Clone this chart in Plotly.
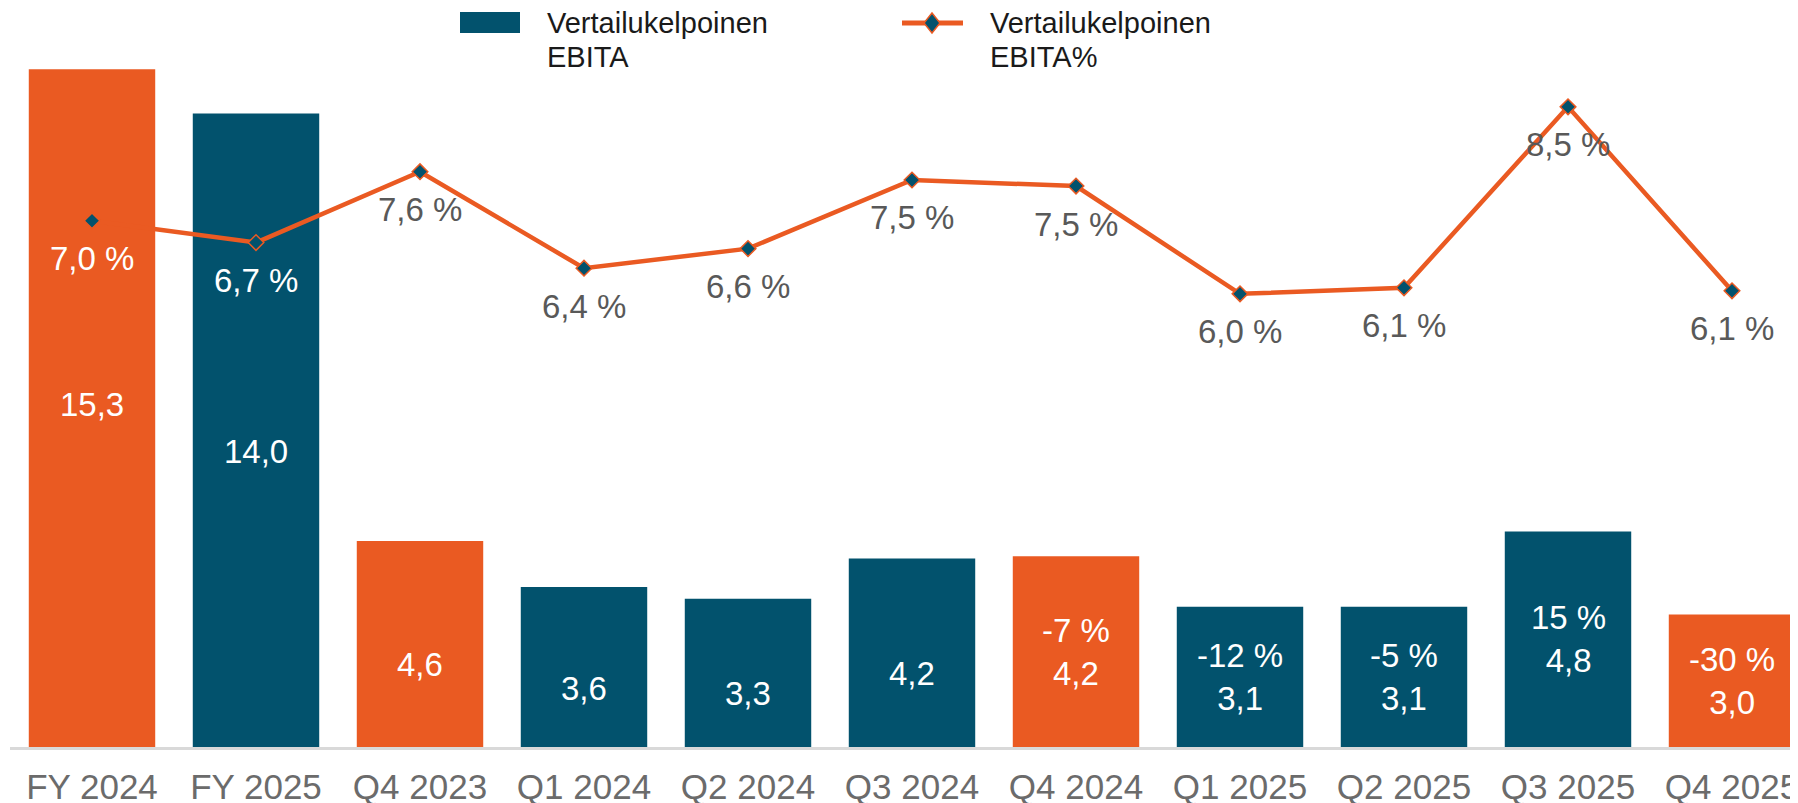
import plotly.graph_objects as go

# ---------------- data ----------------
categories = ["FY 2024", "FY 2025", "Q4 2023", "Q1 2024", "Q2 2024", "Q3 2024",
              "Q4 2024", "Q1 2025", "Q2 2025", "Q3 2025", "Q4 2025"]
ebita = [15.13, 14.14, 4.6, 3.57, 3.31, 4.21, 4.26, 3.13, 3.13, 4.81, 2.96]
ebita_labels = ["15,3", "14,0", "4,6", "3,6", "3,3", "4,2", "4,2", "3,1", "3,1", "4,8", "3,0"]
change_labels = ["", "", "", "", "", "", "-7 %", "-12 %", "-5 %", "15 %", "-30 %"]
ebita_pct = [6.98, 6.69, 7.63, 6.35, 6.61, 7.52, 7.44, 6.01, 6.09, 8.49, 6.05]
pct_labels = ["7,0 %", "6,7 %", "7,6 %", "6,4 %", "6,6 %", "7,5 %", "7,5 %",
              "6,0 %", "6,1 %", "8,5 %", "6,1 %"]
highlight = [True, False, True, False, False, False, True, False, False, False, True]
legend_bar = ["Vertailukelpoinen", "EBITA"]
legend_line = ["Vertailukelpoinen", "EBITA%"]

# ---------------- style ----------------
ORANGE = "#EA5A22"
TEAL = "#02526D"
FONT = "Liberation Sans, Arial, sans-serif"
PAGE_W, PAGE_H = 1798, 803
OFF = 8                      # default body margin of the html page
W, H = PAGE_W - OFF, PAGE_H - OFF
BASE = 747 - OFF             # baseline in figure pixels
ML, MR, MT = 10 - OFF, 0, 0
MB = H - BASE
PW, PH = W - ML - MR, H - MT - MB
Y1_TOP = PH / 44.8
Y2_TOP = PH / 75.4


def px(x):
    """page pixel x -> paper x"""
    return (x - OFF - ML) / PW


def py(y):
    """page pixel y -> paper y"""
    return (BASE - (y - OFF)) / PH


bar_colors = [ORANGE if h else TEAL for h in highlight]

fig = go.Figure()
fig.add_trace(go.Bar(
    x=categories, y=ebita, marker=dict(color=bar_colors, line=dict(width=0)),
    name="Vertailukelpoinen EBITA", showlegend=False, hoverinfo="skip",
))
fig.add_trace(go.Scatter(
    x=categories, y=ebita_pct, yaxis="y2", mode="lines+markers",
    line=dict(color=ORANGE, width=4.5),
    marker=dict(symbol="diamond", size=12, color=TEAL, line=dict(color=ORANGE, width=1.5)),
    name="Vertailukelpoinen EBITA%", showlegend=False, hoverinfo="skip",
))

annotations = []
# bar value labels
for i, (c, v, lab, chg) in enumerate(zip(categories, ebita, ebita_labels, change_labels)):
    if chg:
        text, shift = chg + "<br>" + lab, 0
    elif i == 0:
        text, shift = lab, 4
    else:
        text, shift = lab, -21
    annotations.append(dict(
        x=c, y=v / 2, xref="x", yref="y", text=text, showarrow=False,
        yshift=shift, font=dict(family=FONT, size=33, color="white"),
        xanchor="center", yanchor="middle",
    ))
# line labels
for i, (c, v, lab) in enumerate(zip(categories, ebita_pct, pct_labels)):
    annotations.append(dict(
        x=c, y=v, xref="x", yref="y2", text=lab, showarrow=False, yshift=-38,
        font=dict(family=FONT, size=33, color="white" if i < 2 else "#595959"),
        xanchor="center", yanchor="middle",
    ))
# legend texts
for tx, lines in ((545, legend_bar), (988, legend_line)):
    for j, line in enumerate(lines):
        annotations.append(dict(
            x=px(tx), y=py(23 + 34 * j), xref="paper", yref="paper", text=line,
            showarrow=False, xanchor="left", yanchor="middle",
            font=dict(family=FONT, size=29, color="#1a1a1a"),
        ))

shapes = [
    dict(type="rect", xref="paper", yref="paper", x0=px(460), x1=px(520),
         y0=py(12), y1=py(33), fillcolor=TEAL, line=dict(width=0)),
    dict(type="line", xref="paper", yref="paper", x0=px(902), x1=px(963),
         y0=py(23), y1=py(23), line=dict(color=ORANGE, width=5)),
    dict(type="path", xref="paper", yref="paper",
         path="M {a},{b} L {c},{d} L {a},{e} L {f},{d} Z".format(
             a=px(932), b=py(13), c=px(940), d=py(23), e=py(33), f=px(924)),
         fillcolor=TEAL, line=dict(color=ORANGE, width=1.5)),
]

fig.update_layout(
    width=W, height=H, template="none",
    paper_bgcolor="white", plot_bgcolor="white",
    margin=dict(l=ML, r=MR, t=MT, b=MB, pad=0),
    bargap=0.229, showlegend=False,
    font=dict(family=FONT),
    xaxis=dict(type="category", range=[-0.5, -0.5 + (PAGE_W - 10) / 164.0], showgrid=False,
               showline=True, linecolor="#d9d9d9", linewidth=2.5, ticks="",
               tickfont=dict(family=FONT, size=35, color="#6b6b6b"),
               automargin=False, zeroline=False, fixedrange=True,
               ticklabelstandoff=7),
    yaxis=dict(range=[0, Y1_TOP], visible=False, showgrid=False, zeroline=False,
               automargin=False),
    yaxis2=dict(range=[0, Y2_TOP], overlaying="y", side="right", visible=False,
                showgrid=False, zeroline=False, automargin=False),
    annotations=annotations, shapes=shapes,
)

fig.write_html("out.html")
